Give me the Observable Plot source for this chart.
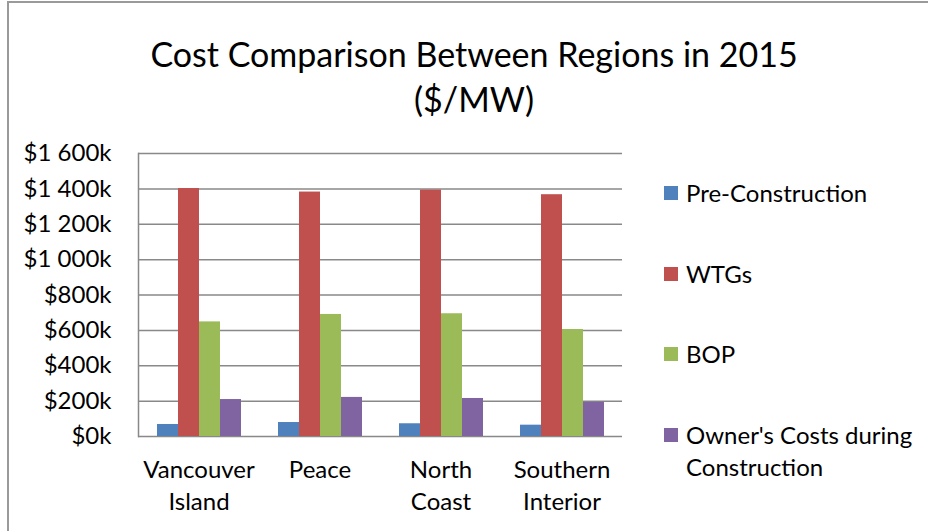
<!DOCTYPE html>
<html>
<head>
<meta charset="utf-8">
<script src="https://cdn.jsdelivr.net/npm/d3@7"></script>
<script src="https://cdn.jsdelivr.net/npm/@observablehq/plot@0.6"></script>
<style>
  html, body { margin: 0; padding: 0; background: #fff; overflow: hidden; }
  #chart { position: relative; width: 928px; height: 531px; overflow: hidden; font-family: Lato, "Open Sans", sans-serif; color: #000; }
  #border { position: absolute; left: 7px; top: 1px; width: 1000px; height: 1000px; border-left: 2px solid #9a9a9a; border-top: 2px solid #9a9a9a; box-sizing: border-box; }
  #title { position: absolute; left: 0; top: 31px; width: 948px; text-align: center; font-size: 34px; line-height: 45px; }
  #plot { position: absolute; left: 0; top: 130px; }
  #legend { position: absolute; left: 664px; top: 177px; display: flex; flex-direction: column; gap: 48.7px; font-size: 24px; line-height: 32px; }
  .item { display: flex; align-items: flex-start; }
  .sw { width: 14px; height: 14px; margin-top: 9px; margin-right: 8px; flex: none; }
  .lbl { width: 250px; }
</style>
</head>
<body>
<div id="chart">
  <div id="border"></div>
  <div id="title">Cost Comparison Between Regions in 2015<br>($/MW)</div>
  <div id="plot"></div>
  <div id="legend"></div>
</div>
<script>
const regions = ["Vancouver Island", "Peace", "North Coast", "Southern Interior"];
const regionLabels = ["Vancouver\nIsland", "Peace", "North\nCoast", "Southern\nInterior"];
const series = ["Pre-Construction", "WTGs", "BOP", "Owner's Costs during Construction"];
const colors = ["#4F81BD", "#C0504D", "#9BBB59", "#8064A2"];

// values in $k per MW
const preConstruction = [68, 79, 72, 64];
const wtgs = [1402, 1382, 1393, 1367];
const bop = [648, 690, 694, 605];
const ownersCosts = [209, 221, 215, 194];

const yTicks = [0, 200, 400, 600, 800, 1000, 1200, 1400, 1600];
const yTickLabels = ["$0k", "$200k", "$400k", "$600k", "$800k", "$1 000k", "$1 200k", "$1 400k", "$1 600k"];

const seriesValues = [preConstruction, wtgs, bop, ownersCosts];
const rows = regions.flatMap((r, i) => seriesValues.map((vals, j) => ({region: r, series: series[j], value: vals[i]})));

const gridColor = "#898989";

const chart = Plot.plot({
  width: 650,
  height: 401,
  marginLeft: 137,
  marginRight: 28,
  marginTop: 23,
  marginBottom: 95,
  style: {fontFamily: "Lato, 'Open Sans', sans-serif", fontSize: "24px", color: "#000", background: "transparent", overflow: "visible"},
  fx: {domain: regions, padding: 0, label: null, axis: null},
  x: {domain: series, paddingInner: 0, paddingOuter: 0.756, axis: null},
  y: {domain: [0, 1600], label: null, axis: null},
  color: {domain: series, range: colors},
  marks: [
    Plot.ruleY(yTicks, {stroke: gridColor, strokeWidth: 1.5}),
    Plot.frame({anchor: "left", stroke: gridColor, strokeWidth: 1.5, fx: () => regions[0]}),
    Plot.barY(rows, {fx: "region", x: "series", y: "value", fill: "series"}),
    Plot.axisY(yTicks, {anchor: "left", tickSize: 0, tickPadding: 27, tickFormat: (d) => yTickLabels[yTicks.indexOf(d)], label: null, fontSize: 24}),
    Plot.axisFx({anchor: "bottom", tickSize: 0, tickPadding: 19, tickFormat: (d) => regionLabels[regions.indexOf(d)], label: null, fontSize: 24, lineHeight: 1.333})
  ]
});
document.getElementById("plot").appendChild(chart);

const legend = document.getElementById("legend");
series.forEach((s, i) => {
  const item = document.createElement("div");
  item.className = "item";
  const sw = document.createElement("div");
  sw.className = "sw";
  sw.style.background = colors[i];
  const lbl = document.createElement("div");
  lbl.className = "lbl";
  lbl.textContent = s;
  item.appendChild(sw);
  item.appendChild(lbl);
  legend.appendChild(item);
});
</script>
</body>
</html>
